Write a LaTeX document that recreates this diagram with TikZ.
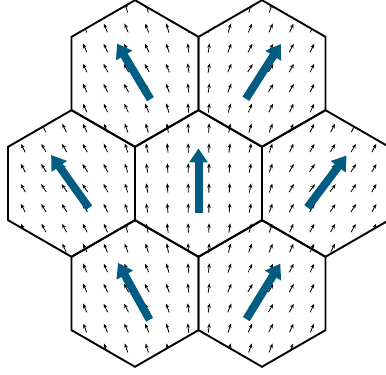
\documentclass[tikz,border=0pt]{standalone}
\usetikzlibrary{arrows.meta,calc}
\definecolor{bigblue}{RGB}{0,92,130}
\tikzset{
  hexline/.style={line width=1.9pt, line join=miter, black},
  smallarr/.style={line width=0.85pt, black, -{Stealth[length=4.5pt,width=3.6pt]}},
  bigarr/.style={line width=8pt, bigblue, -{Triangle[length=14pt,width=18pt]}}
}
\newcommand\hexwt[2]{(1/(((\X-(#1))/100)^2+((\Y-(#2))/100)^2+0.003))}
\newcommand\fieldsum[1]{(\hexwt{135}{301.5}*#1(121) + \hexwt{262}{301.5}*#1(57.5)
  + \hexwt{71.5}{191.5}*#1(125.6) + \hexwt{198.5}{191.5}*#1(90) + \hexwt{325.5}{191.5}*#1(53)
  + \hexwt{135}{81.5}*#1(119) + \hexwt{262}{81.5}*#1(58.5))}
\begin{document}
\begin{tikzpicture}[x=1pt,y=1pt]
\useasboundingbox (0,0) rectangle (386,375);
\def\R{73.3}
\coordinate (tl) at (135,301.5);
\coordinate (tr) at (262,301.5);
\coordinate (l) at (71.5,191.5);
\coordinate (c) at (198.5,191.5);
\coordinate (r) at (325.5,191.5);
\coordinate (bl) at (135,81.5);
\coordinate (br) at (262,81.5);
% small field arrows, clipped to the hexagons
\begin{scope}
  \clip \foreach \h in {tl,tr,l,c,r,bl,br} {(\h) +(30:\R) -- +(90:\R) -- +(150:\R) -- +(210:\R) -- +(270:\R) -- +(330:\R) -- cycle};
  \foreach \i in {0,...,18} {
    \foreach \j in {0,...,18} {
      \edef\X{\fpeval{2.4+20.65*\i}}
      \edef\Y{\fpeval{375-(8+20*\j)}}
      \edef\ang{\fpeval{atand(\fieldsum{sind},\fieldsum{cosd})}}
      \draw[smallarr] (\X,\Y) ++(\ang+180:4.7) -- ++(\ang:9.4);
    }
  }
\end{scope}
% hexagons
\foreach \h in {tl,tr,l,c,r,bl,br} {
  \draw[hexline] (\h) +(30:\R) -- +(90:\R) -- +(150:\R) -- +(210:\R) -- +(270:\R) -- +(330:\R) -- cycle;
}
% big arrows
\foreach \h/\a in {tl/121,tr/57.5,l/125.6,c/90,r/53,bl/119,br/58.5} {
  \draw[bigarr] ($(\h)+(\a+180:30)$) -- ($(\h)+(\a:35)$);
}
\end{tikzpicture}
\end{document}
